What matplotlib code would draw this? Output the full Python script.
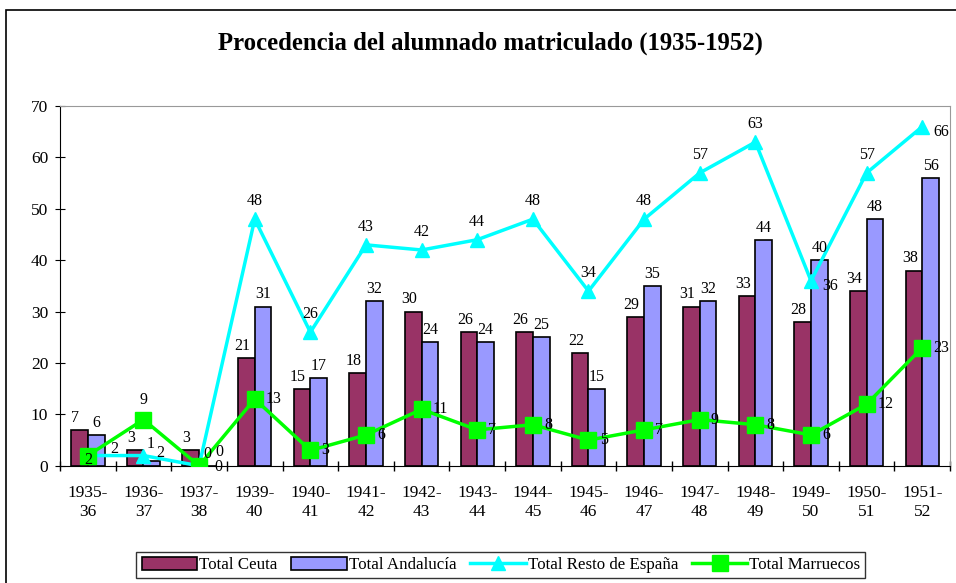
import matplotlib.pyplot as plt
import numpy as np
from matplotlib.patches import Rectangle

plt.rcParams['font.family'] = ['Liberation Serif', 'DejaVu Serif']

cursos = ["1935-\n36", "1936-\n37", "1937-\n38", "1939-\n40", "1940-\n41", "1941-\n42",
          "1942-\n43", "1943-\n44", "1944-\n45", "1945-\n46", "1946-\n47", "1947-\n48",
          "1948-\n49", "1949-\n50", "1950-\n51", "1951-\n52"]
ceuta = [7, 3, 3, 21, 15, 18, 30, 26, 26, 22, 29, 31, 33, 28, 34, 38]
andalucia = [6, 1, 0, 31, 17, 32, 24, 24, 25, 15, 35, 32, 44, 40, 48, 56]
resto = [2, 2, 0, 48, 26, 43, 42, 44, 48, 34, 48, 57, 63, 36, 57, 66]
marruecos = [2, 9, 0, 13, 3, 6, 11, 7, 8, 5, 7, 9, 8, 6, 12, 23]

x = np.arange(len(cursos))
w = 0.3

fig = plt.figure(figsize=(9.56, 5.83), dpi=100)
ax = fig.add_axes([0.0628, 0.201, 0.931, 0.617])

b1 = ax.bar(x - w / 2, ceuta, w, color='#993366', edgecolor='black', linewidth=1.2,
            label='Total Ceuta', zorder=2)
b2 = ax.bar(x + w / 2, andalucia, w, color='#9999ff', edgecolor='black', linewidth=1.2,
            label='Total Andalucía', zorder=2)
l1, = ax.plot(x, resto, color='#00ffff', lw=2.5, marker='^', ms=10,
              label='Total Resto de España', zorder=3)
l2, = ax.plot(x, marruecos, color='#00ff00', lw=2.5, marker='s', ms=11,
              label='Total Marruecos', zorder=4)

fs = 11.5
# bar labels
for i in x:
    ax.annotate(str(ceuta[i]), (i - w / 2, ceuta[i]), xytext=(-3, 3),
                textcoords='offset points', ha='center', va='bottom', fontsize=fs, zorder=5)
    andal_off = (-1, 6) if i == 1 else (0, 3)
    ax.annotate(str(andalucia[i]), (i + w / 2, andalucia[i]), xytext=andal_off,
                textcoords='offset points', ha='center', va='bottom', fontsize=fs, zorder=5)

# line labels
resto_off = {0: (16, 5), 1: (9, 2), 2: (12, 10), 13: (8, -4), 15: (8, -4)}
for i in x:
    if i in resto_off:
        off, ha, va = resto_off[i], 'left', 'center'
    else:
        off, ha, va = (0, 7), 'center', 'bottom'
    ax.annotate(str(resto[i]), (i, resto[i]), xytext=off, textcoords='offset points',
                ha=ha, va=va, fontsize=fs, zorder=5)
for i in x:
    if i == 0:
        off, ha, va = (0, -3), 'center', 'center'
    elif i == 1:
        off, ha, va = (0, 8), 'center', 'bottom'
    elif i == 2:
        off, ha, va = (11, -1), 'left', 'center'
    else:
        off, ha, va = (8, 0), 'left', 'center'
    ax.annotate(str(marruecos[i]), (i, marruecos[i]), xytext=off, textcoords='offset points',
                ha=ha, va=va, fontsize=fs, zorder=5)

ax.set_xlim(-0.5, len(cursos) - 0.5)
ax.set_ylim(0, 70)
ax.set_yticks(range(0, 71, 10))
ax.set_xticks(x)
ax.set_xticklabels(cursos, fontsize=12.5, linespacing=1.25)
ax.set_xticks(np.arange(-0.5, len(cursos), 1), minor=True)
ax.tick_params(axis='x', which='major', length=0, pad=14)
ax.tick_params(axis='x', which='minor', length=7, direction='inout', width=1)
ax.tick_params(axis='y', labelsize=12.5, direction='inout', length=7, pad=5)
for s in ['top', 'right']:
    ax.spines[s].set_color('#999999')
for s in ['left', 'bottom']:
    ax.spines[s].set_color('black')

fig.text(0.513, 0.925, 'Procedencia del alumnado matriculado (1935-1952)',
         ha='center', va='center', fontsize=17.8, fontweight='bold')

leg = fig.legend([b1, b2, l1, l2],
                 ['Total Ceuta', 'Total Andalucía', 'Total Resto de España', 'Total Marruecos'],
                 loc='center', bbox_to_anchor=(0.524, 0.031), ncol=4, fontsize=12.2,
                 frameon=True, fancybox=False, edgecolor='black', handlelength=3.3,
                 handleheight=0.8, handletextpad=0.1, columnspacing=0.8, borderpad=0.3)
leg.get_frame().set_linewidth(1.0)

fig.patches.append(Rectangle((0.006, -0.01), 1.0, 0.993, transform=fig.transFigure,
                             fill=False, edgecolor='black', linewidth=1.2))

fig.savefig('out.png', dpi=100)
